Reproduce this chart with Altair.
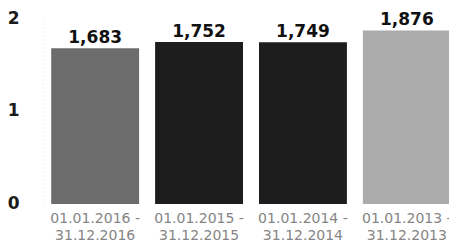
import altair as alt
import pandas as pd

periods = [
    "01.01.2016 -\n31.12.2016",
    "01.01.2015 -\n31.12.2015",
    "01.01.2014 -\n31.12.2014",
    "01.01.2013 -\n31.12.2013",
]
values = [1.683, 1.752, 1.749, 1.876]
colors = ["#6c6c6c", "#1d1d1d", "#1d1d1d", "#ababab"]
y_ticks = [0, 1, 2]

df = pd.DataFrame({"period": periods, "value": values, "color": colors})

x = alt.X(
    "period:N",
    sort=None,
    title=None,
    scale=alt.Scale(range=[0, 416], paddingInner=0.154, paddingOuter=0.079),
    axis=alt.Axis(
        labelAngle=0,
        labelExpr="split(datum.label, '\\n')",
        labelFont="DejaVu Sans",
        labelFontSize=14,
        labelColor="#858585",
        labelLineHeight=17,
        labelPadding=7,
        labelOverlap=False,
        labelBound=False,
        ticks=False,
        domain=False,
        grid=False,
    ),
)

y = alt.Y(
    "value:Q",
    title=None,
    scale=alt.Scale(domain=[0, 2], nice=False, zero=True),
    axis=alt.Axis(
        values=y_ticks,
        format=".0f",
        labelFont="DejaVu Sans",
        labelFontWeight="bold",
        labelFontSize=17,
        labelColor="#1a1a1a",
        labelAlign="right",
        labelBaseline="middle",
        labelPadding=24,
        labelOffset=-1,
        labelOverlap=False,
        labelBound=False,
        labelFlush=False,
        ticks=False,
        domain=True,
        domainColor="#e0e0e0",
        domainDash=[1, 3],
        grid=False,
    ),
)

bars = alt.Chart(df).mark_bar().encode(
    x=x,
    y=y,
    color=alt.Color("color:N", scale=None, legend=None),
)

texts = alt.Chart(df).transform_calculate(
    lbl="replace(format(datum.value, '.3f'), '.', ',')"
).mark_text(
    font="DejaVu Sans",
    fontWeight="bold",
    fontSize=17,
    color="#111111",
    baseline="alphabetic",
    dy=-5,
).encode(
    x=x,
    y=y,
    text="lbl:N",
)

chart = (
    alt.layer(bars, texts)
    .properties(
        width=406,
        height=185,
        background="white",
        autosize=alt.AutoSizeParams(type="none"),
        padding={"left": 35, "top": 11, "right": 0, "bottom": 40},
    )
    .configure_view(stroke=None, strokeWidth=0)
)

chart.save("out.html", embed_options={"renderer": "svg", "actions": False})
